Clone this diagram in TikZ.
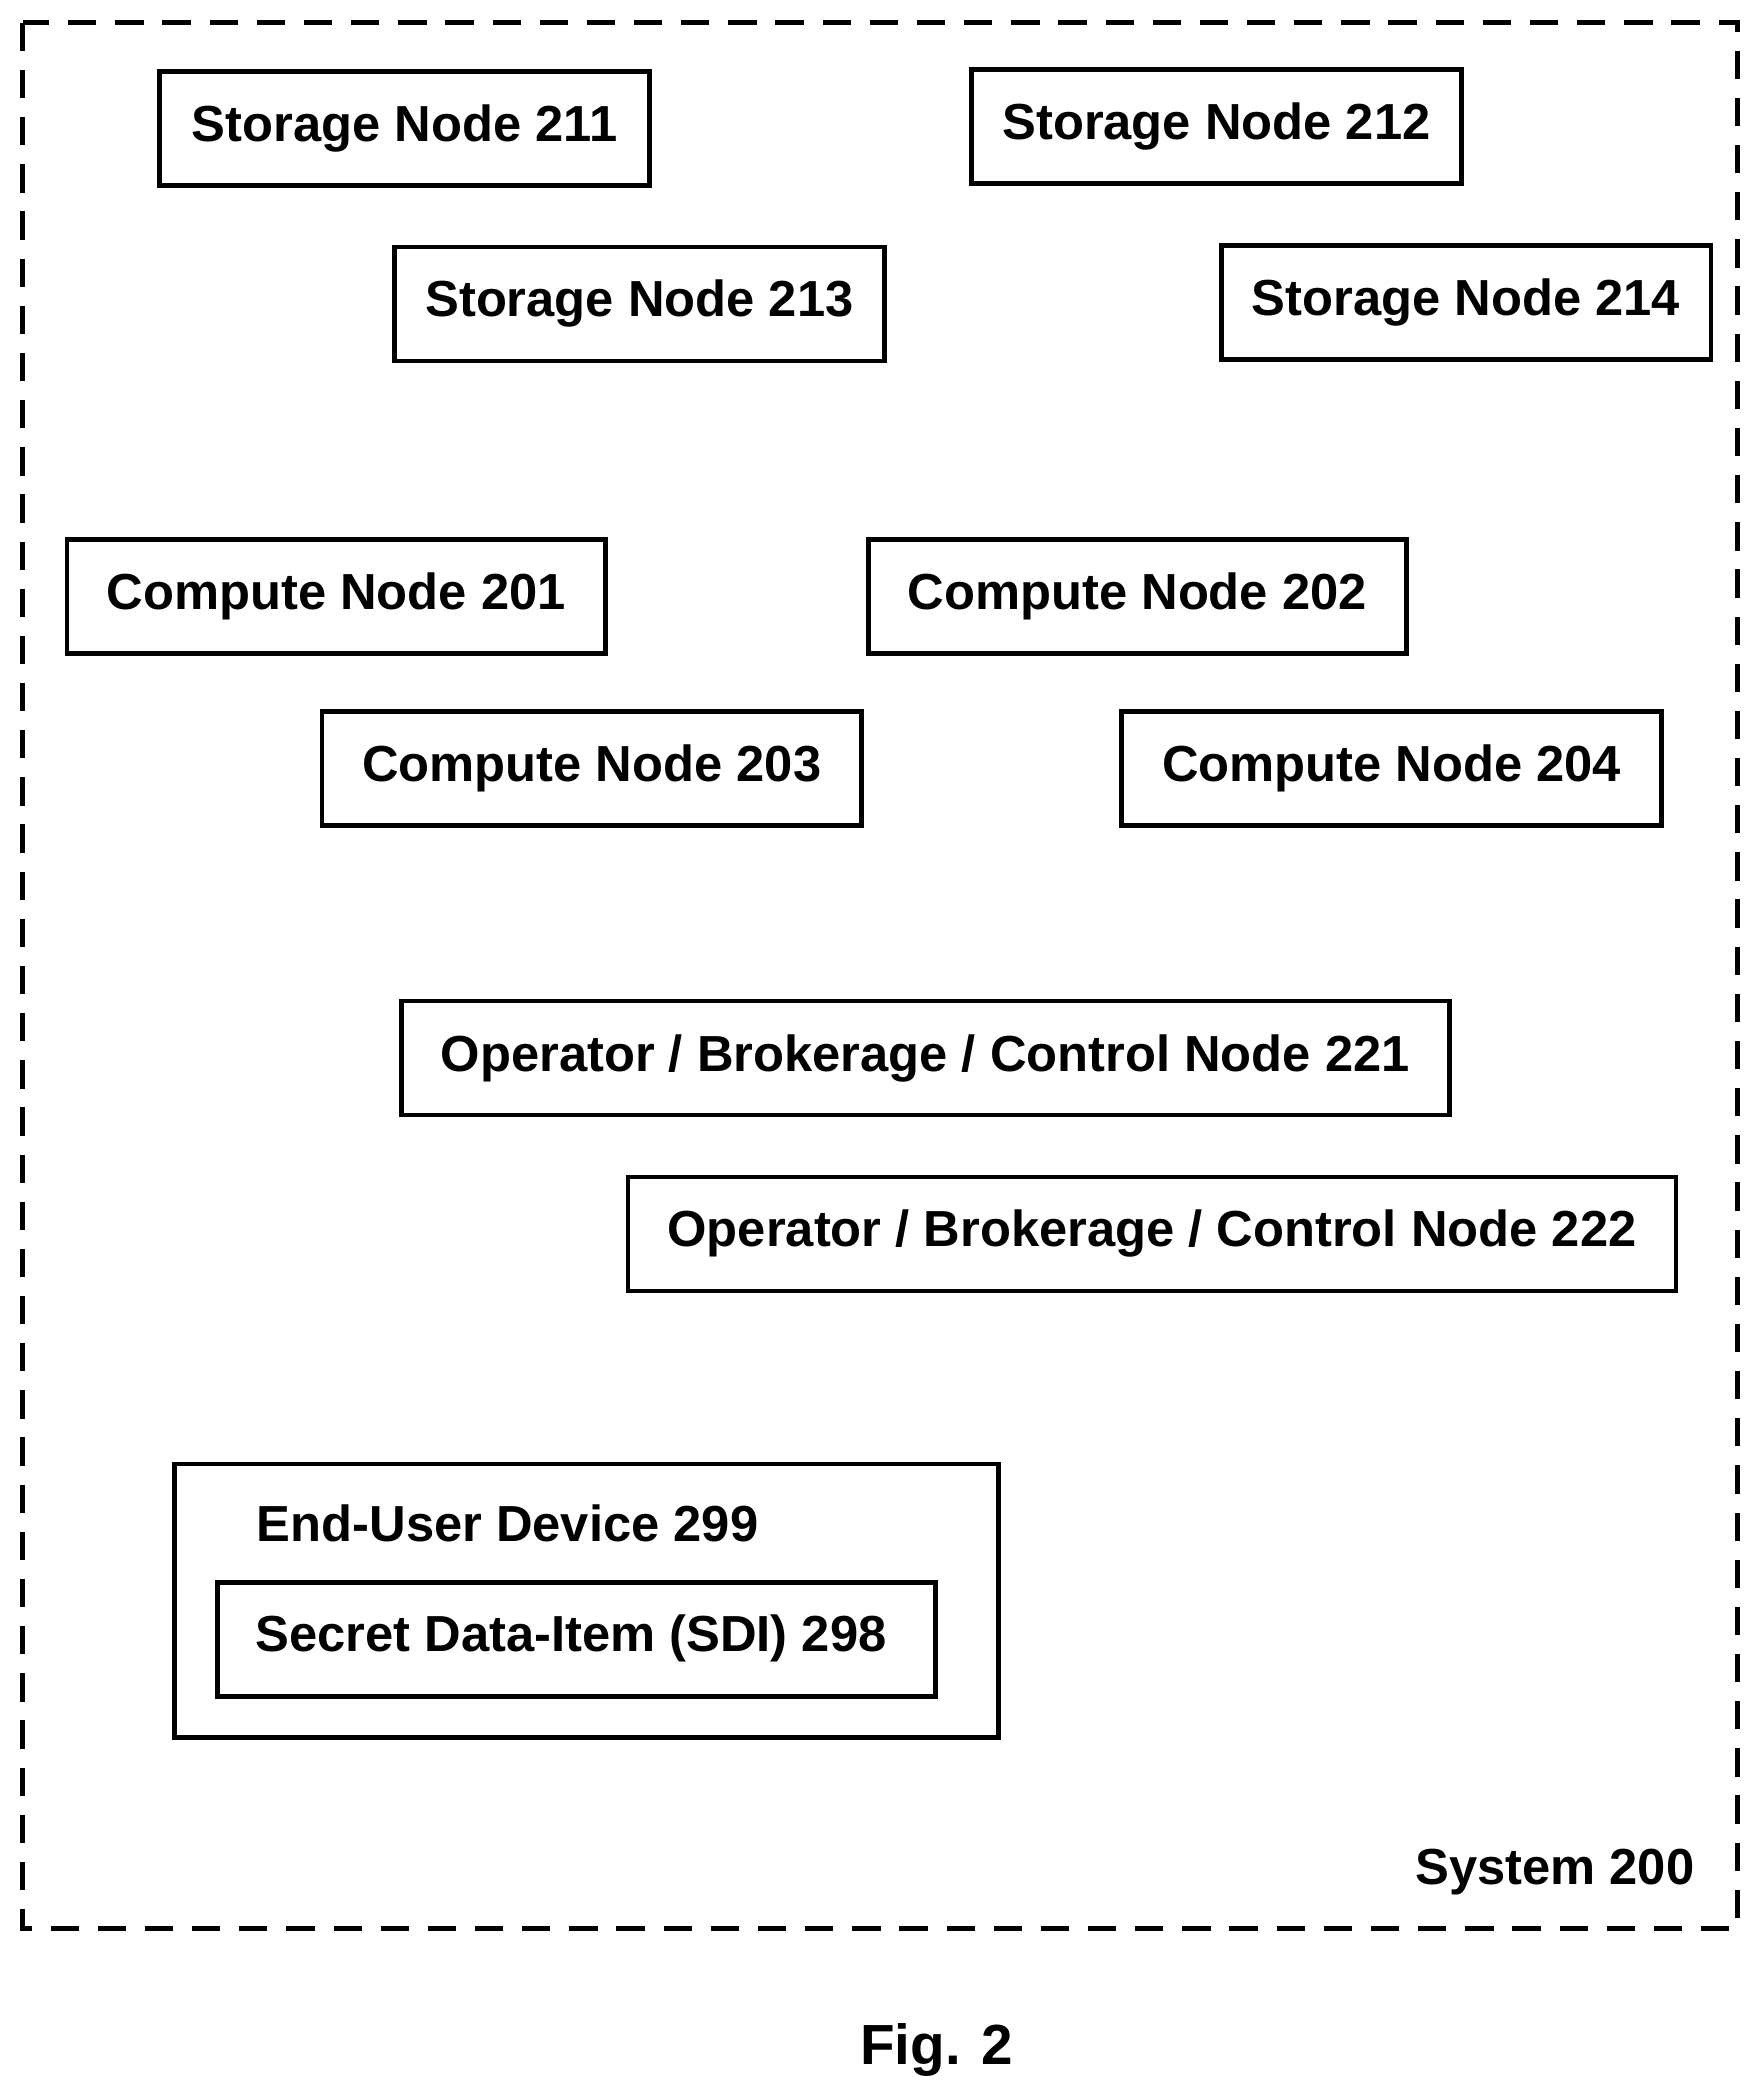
\documentclass[tikz,border=0pt]{standalone}
\usepackage{fontspec}
\setmainfont{Liberation Sans}
\begin{document}
\begin{tikzpicture}[x=0.02cm,y=-0.02cm,
  box/.style={draw,line width=2pt,minimum height=1.7cm,inner sep=0pt,font=\bfseries\fontsize{21.5}{24}\selectfont},
  lbl/.style={inner sep=0pt,font=\bfseries\fontsize{21.5}{24}\selectfont}]
\useasboundingbox (0,0) rectangle (1300,1553);
\draw[line width=2pt,dash pattern=on 12pt off 8pt] (17,17) rectangle (1295,1437);
\newcommand{\bx}[6]{\node[box,minimum width={(#3-#2)*0.02cm}] (#1) at ({(#2+#3)/2},{(#4+#5)/2}) {#6};}
\bx{s211}{119}{484}{53}{138}{Storage Node 211}
\bx{s212}{724}{1089}{52}{137}{Storage Node 212}
\bx{s213}{294}{659}{184}{269}{Storage Node 213}
\bx{s214}{910}{1275}{183}{268}{Storage Node 214}
\bx{c201}{50}{451}{402}{487}{Compute Node 201}
\bx{c202}{647}{1048}{402}{487}{Compute Node 202}
\bx{c203}{240}{642}{530}{615}{Compute Node 203}
\bx{c204}{836}{1238}{530}{615}{Compute Node 204}
\bx{o221}{299}{1080}{746}{831}{Operator / Brokerage / Control Node 221}
\bx{o222}{468}{1249}{877}{962}{Operator / Brokerage / Control Node 222}
\draw[line width=2pt] (130,1091) rectangle (744,1295);
\node[lbl,anchor=west] (eud) at (191,1135) {End-User Device 299};
\draw[line width=2pt] (162,1179) rectangle (697,1264);
\node[lbl,anchor=west] (sdi) at (190,1221) {Secret Data-Item (SDI) 298};
\node[lbl,anchor=east] (sys) at (1263,1395) {System 200};
\node[inner sep=0pt,font=\bfseries\fontsize{24}{28}\selectfont] (fig) at (698,1528) {Fig. 2};
\end{tikzpicture}
\end{document}
